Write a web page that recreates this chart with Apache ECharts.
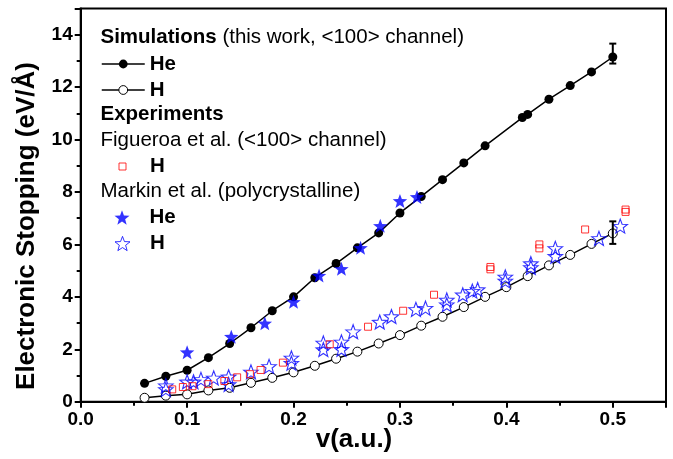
<!DOCTYPE html>
<html><head><meta charset="utf-8">
<script src="https://cdn.jsdelivr.net/npm/echarts@6/dist/echarts.min.js"></script>
<style>html,body{margin:0;padding:0;background:#fff}#c{width:673px;height:459px}</style>
</head><body><div id="c"></div>
<script>
// ---- data ----
const simHeV = [0.06,0.08,0.10,0.12,0.14,0.16,0.18,0.20,0.22,0.24,0.26,0.28,0.30,0.32,0.34,0.36,0.38,0.415,0.42,0.44,0.46,0.48,0.50];
const simHeS = [0.70,0.97,1.20,1.68,2.22,2.82,3.47,4.00,4.73,5.27,5.87,6.44,7.20,7.83,8.47,9.11,9.76,10.84,10.96,11.54,12.06,12.58,13.15];
const simHV = [0.06,0.08,0.10,0.12,0.14,0.16,0.18,0.20,0.22,0.24,0.26,0.28,0.30,0.32,0.34,0.36,0.38,0.40,0.42,0.44,0.46,0.48,0.50];
const simHS = [0.15,0.23,0.28,0.43,0.53,0.72,0.91,1.12,1.37,1.64,1.91,2.22,2.54,2.90,3.24,3.61,4.00,4.37,4.79,5.20,5.60,6.02,6.42];
const errV = [0.50, 0.50];
const errLow = [12.90, 6.02];
const errHigh = [13.66, 6.88];
const figHV = [0.086,0.096,0.105,0.120,0.135,0.147,0.159,0.169,0.190,0.234,0.270,0.303,0.332,0.385,0.385,0.431,0.431,0.474,0.512,0.512];
const figHS = [0.47,0.56,0.59,0.67,0.79,0.93,1.05,1.21,1.49,2.19,2.86,3.47,4.08,5.14,5.05,6.00,5.85,6.57,7.33,7.24];
const marHeV = [0.100,0.1415,0.173,0.200,0.224,0.245,0.263,0.2815,0.300,0.316];
const marHeS = [1.89,2.48,2.99,3.81,4.81,5.07,5.87,6.71,7.66,7.81];
const marHV = [0.080,0.080,0.100,0.106,0.113,0.125,0.139,0.139,0.160,0.177,0.198,0.198,0.228,0.228,0.245,0.245,0.256,0.281,0.292,0.315,0.324,0.344,0.344,0.359,0.368,0.373,0.399,0.399,0.423,0.423,0.446,0.446,0.487,0.507];
const marHS = [0.61,0.47,0.76,0.76,0.85,0.91,0.95,0.66,1.14,1.35,1.67,1.47,2.24,1.99,2.28,2.00,2.67,3.04,3.25,3.52,3.57,3.88,3.70,4.08,4.22,4.28,4.76,4.61,5.27,5.12,5.85,5.55,6.23,6.70];
const legendLabels = {'Sim He':'He','Sim H':'H','Figueroa H':'H','Markin He':'He','Markin H':'H'};

const zip = (a,b) => a.map((v,i)=>[v,b[i]]);
const FONT = '"Liberation Sans", Arial, sans-serif';
const STAR = 'path://M50 0 L62.3 33 L97.55 34.55 L69.97 56.49 L79.39 90.45 L50 71 L20.61 90.45 L30.03 56.49 L2.45 34.55 L37.7 33 Z';
const SQUARE = 'path://M0 0 L10 0 L10 10 L0 10 Z';
const BLUE = '#0000ff', RED = '#ff0000';

const chart = echarts.init(document.getElementById('c'));

const ICON_X = 122, TEXT_X = 149.5;
function leg(name, top, itemHeight, extra) {
  return Object.assign({
    show: true, data: [name], left: 101, top: top, orient: 'vertical',
    padding: 0, itemWidth: 43, itemHeight: itemHeight, selectedMode: false,
    formatter: n => legendLabels[n],
    textStyle: {fontFamily: FONT, fontSize: 20.5, fontWeight: 'bold', color: '#000'}
  }, extra || {});
}
function symLeg(name, top, size, icon, extra) {
  const left = ICON_X - size / 2;
  return leg(name, top, size, Object.assign({
    data: [{name: name, icon: icon}], left: left, itemWidth: size,
    textStyle: {fontFamily: FONT, fontSize: 20.5, fontWeight: 'bold', color: '#000',
      padding: [0, 0, 0, TEXT_X - (left + size + 5)]}
  }, extra || {}));
}

chart.setOption({
  animation: false,
  backgroundColor: '#fff',
  grid: {left: 80.7, right: 7, top: 8.5, bottom: 57.3, show: true, borderColor: '#000', borderWidth: 2, backgroundColor: 'transparent'},
  xAxis: {
    type: 'value', min: 0, max: 0.55, interval: 0.1,
    axisLine: {show: true, onZero: false, lineStyle: {color: '#000', width: 2}},
    axisTick: {show: true, inside: false, length: 6, lineStyle: {color: '#000', width: 2}},
    minorTick: {show: true, splitNumber: 2, length: 4, lineStyle: {color: '#000', width: 2}},
    splitLine: {show: false},
    axisLabel: {margin: 9, fontFamily: FONT, fontSize: 19, fontWeight: 'bold', color: '#000',
      formatter: v => (v > 0.5 ? '' : v.toFixed(1))}
  },
  yAxis: {
    type: 'value', min: 0, max: 15, interval: 2,
    axisLine: {show: true, onZero: false, lineStyle: {color: '#000', width: 2}},
    axisTick: {show: true, inside: false, length: 6, lineStyle: {color: '#000', width: 2}},
    minorTick: {show: true, splitNumber: 2, length: 4, lineStyle: {color: '#000', width: 2}},
    splitLine: {show: false},
    axisLabel: {margin: 8, fontFamily: FONT, fontSize: 19, fontWeight: 'bold', color: '#000',
      formatter: v => (v > 14 ? '' : String(v))}
  },
  legend: [
    leg('Sim He', 53.5, 11, {lineStyle: {width: 1.5}}),
    leg('Sim H', 79.5, 11, {lineStyle: {width: 1.5}, itemStyle: {borderWidth: 1}}),
    symLeg('Figueroa H', 156, 7, SQUARE, {itemStyle: {borderWidth: 1}}),
    symLeg('Markin He', 207, 15, STAR),
    symLeg('Markin H', 233, 15, STAR, {itemStyle: {borderWidth: 1}})
  ],
  graphic: [
    {type: 'text', x: 100.5, y: 37, silent: true, style: {
      text: '{b|Simulations} (this work, <100> channel)', fill: '#000',
      font: '20.5px ' + FONT, verticalAlign: 'middle',
      rich: {b: {fontWeight: 'bold', fontSize: 20.5, fontFamily: FONT}}}},
    {type: 'text', x: 100.5, y: 114, silent: true, style: {
      text: 'Experiments', fill: '#000', font: 'bold 20.5px ' + FONT, verticalAlign: 'middle'}},
    {type: 'text', x: 100.5, y: 140, silent: true, style: {
      text: 'Figueroa et al. (<100> channel)', fill: '#000', font: '20.5px ' + FONT, verticalAlign: 'middle'}},
    {type: 'text', x: 100.5, y: 191, silent: true, style: {
      text: 'Markin et al. (polycrystalline)', fill: '#000', font: '20.5px ' + FONT, verticalAlign: 'middle'}},
    {type: 'text', x: 27, y: 226, rotation: Math.PI / 2, silent: true, style: {
      text: 'Electronic Stopping (eV/Å)', fill: '#000', font: 'bold 26px ' + FONT, align: 'center', verticalAlign: 'middle'}},
    {type: 'text', x: 354, y: 440, silent: true, style: {
      text: 'v(a.u.)', fill: '#000', font: 'bold 26px ' + FONT, align: 'center', verticalAlign: 'middle'}}
  ],
  series: [
    {name: 'Sim He', type: 'line', data: zip(simHeV, simHeS), symbol: 'circle', symbolSize: 9,
      itemStyle: {color: '#000'}, lineStyle: {color: '#000', width: 1.5}, z: 2},
    {name: 'Sim H', type: 'line', data: zip(simHV, simHS), symbol: 'circle', symbolSize: 9,
      itemStyle: {color: '#fff', borderColor: '#000', borderWidth: 1}, lineStyle: {color: '#000', width: 1.5}, z: 2},
    {name: 'Markin H', type: 'scatter', data: zip(marHV, marHS), symbol: STAR, symbolSize: [14.5, 14],
      itemStyle: {color: 'rgba(255,255,255,0)', borderColor: BLUE, borderWidth: 1.1}, z: 3},
    {name: 'Figueroa H', type: 'scatter', data: zip(figHV, figHS), symbol: 'rect', symbolSize: 7,
      itemStyle: {color: 'rgba(255,255,255,0)', borderColor: RED, borderWidth: 1}, z: 4},
    {name: 'Markin He', type: 'scatter', data: zip(marHeV, marHeS), symbol: STAR, symbolSize: [14.5, 14],
      itemStyle: {color: BLUE}, z: 4},
    {name: 'errors', type: 'custom', z: 5, silent: true,
      data: errV.map((v, i) => [v, errLow[i], errHigh[i]]),
      renderItem: function (params, api) {
        const lo = api.coord([api.value(0), api.value(1)]);
        const hi = api.coord([api.value(0), api.value(2)]);
        const w = 3.5;
        const st = {stroke: '#000', lineWidth: 2};
        return {type: 'group', children: [
          {type: 'line', shape: {x1: lo[0], y1: lo[1], x2: hi[0], y2: hi[1]}, style: st},
          {type: 'line', shape: {x1: lo[0] - w, y1: lo[1], x2: lo[0] + w, y2: lo[1]}, style: st},
          {type: 'line', shape: {x1: hi[0] - w, y1: hi[1], x2: hi[0] + w, y2: hi[1]}, style: st}
        ]};
      }}
  ]
});
</script></body></html>
